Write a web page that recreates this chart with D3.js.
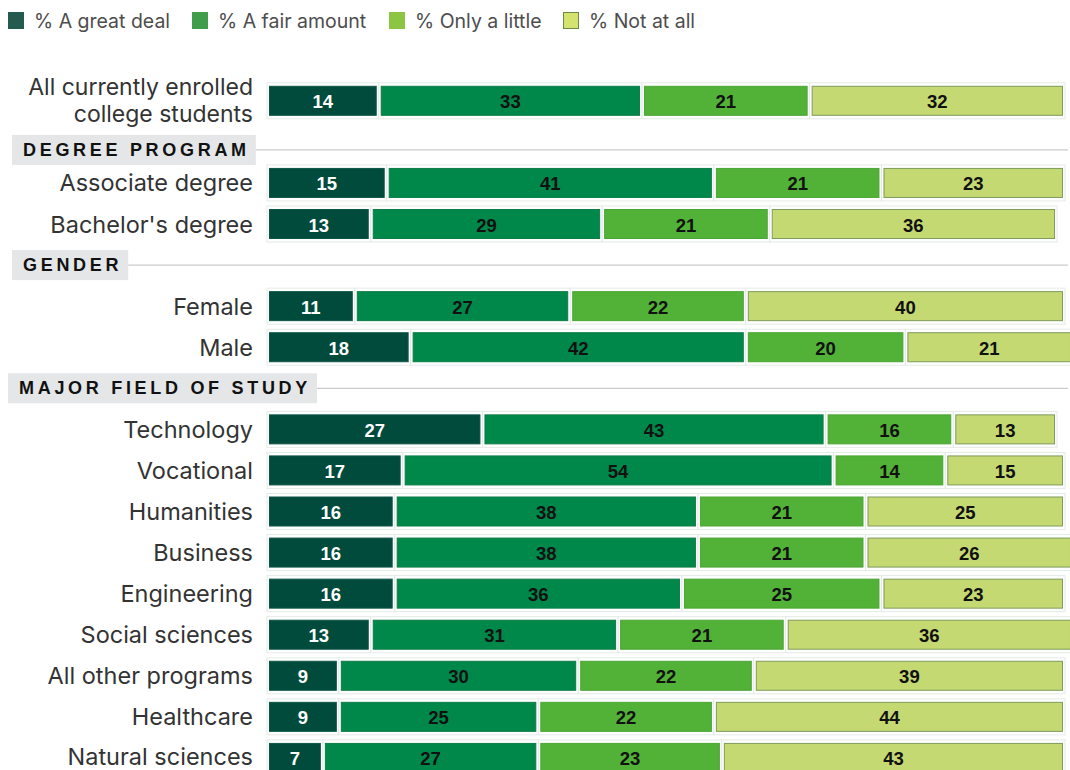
<!DOCTYPE html>
<html>
<head>
<meta charset="utf-8">
<script src="https://cdn.jsdelivr.net/npm/d3@7"></script>
<style>
  html, body { margin: 0; padding: 0; background: #fff; }
  svg { display: block; }
</style>
</head>
<body>
<svg id="chart" width="1070" height="770"></svg>
<script>
// Row labels (a "\n" splits a label over two lines)
const categories = [
  "All currently enrolled\ncollege students",
  "Associate degree",
  "Bachelor's degree",
  "Female",
  "Male",
  "Technology",
  "Vocational",
  "Humanities",
  "Business",
  "Engineering",
  "Social sciences",
  "All other programs",
  "Healthcare",
  "Natural sciences"
];

// Percentages for each response
const greatDeal  = [14, 15, 13, 11, 18, 27, 17, 16, 16, 16, 13,  9,  9,  7];
const fairAmount = [33, 41, 29, 27, 42, 43, 54, 38, 38, 36, 31, 30, 25, 27];
const onlyLittle = [21, 21, 21, 22, 20, 16, 14, 21, 21, 25, 21, 22, 22, 23];
const notAtAll   = [32, 23, 36, 40, 21, 13, 15, 25, 26, 23, 36, 39, 44, 43];

// Series names shown in the legend
const seriesNames = ["% A great deal", "% A fair amount", "% Only a little", "% Not at all"];

// Section headings and the row index each one precedes
const sectionTitles = ["DEGREE PROGRAM", "GENDER", "MAJOR FIELD OF STUDY"];
const sectionStarts = [1, 3, 5];

// Styling
const barFill    = ["#004b3c", "#00884b", "#52b137", "#c5d973"];
const barStroke  = ["#0d5646", "#0b7d46", "#4aa633", "#7d9c5a"];
const legendFill = ["#255a4e", "#3f9d4b", "#8bc541", "#d4e26e"];
const legendLine = ["#255a4e", "#3f9d4b", "#8bc541", "#6a8a45"];
const valueColor = ["#ffffff", "#111111", "#111111", "#111111"];

const svg = d3.select("#chart");

// Build table rows
const series = [greatDeal, fairAmount, onlyLittle, notAtAll];
const rows = categories.map((c, i) => {
  const r = { category: c };
  seriesNames.forEach((s, k) => r[s] = series[k][i]);
  return r;
});
const stacked = d3.stack().keys(seriesNames)(rows);

// Vertical slots: rows and section headings share the same rhythm
const slots = [];
categories.forEach((c, i) => {
  const si = sectionStarts.indexOf(i);
  if (si >= 0) slots.push({ type: "section", title: sectionTitles[si], first: si === 0 });
  slots.push({ type: "row", index: i });
});
const y = d3.scaleLinear().domain([0, slots.length - 1]).range([100.8, 100.8 + 41.07 * (slots.length - 1)]);
const rowY = new Map();
slots.forEach((s, j) => { s.y = y(j); if (s.type === "row") rowY.set(s.index, s.y); });

const x = d3.scaleLinear().domain([0, 100]).range([267, 1065]);

const barH = 29;
const gap = 2.5;

// Legend
const legend = svg.append("g").attr("class", "legend");
const legendX = [8, 192, 389, 563];
seriesNames.forEach((name, k) => {
  const g = legend.append("g").attr("transform", `translate(${legendX[k]},12)`);
  g.append("rect")
    .attr("x", 0.5).attr("y", 0.5).attr("width", 15).attr("height", 16)
    .attr("fill", legendFill[k]).attr("stroke", legendLine[k]).attr("stroke-width", 1);
  g.append("text")
    .attr("x", 26).attr("y", 9)
    .attr("dominant-baseline", "central")
    .attr("font-family", "Inter, 'Noto Sans', sans-serif")
    .attr("font-size", 19.5)
    .attr("fill", "#4d4d4d")
    .text(name);
});

// Section headings
slots.filter(s => s.type === "section").forEach(s => {
  const g = svg.append("g");
  const cy = s.first ? s.y + 8 : s.y;
  const tx = s.title.length > 16 ? 19 : 23;
  const t = g.append("text")
    .attr("x", tx).attr("y", cy)
    .attr("dominant-baseline", "central")
    .attr("font-family", "'Liberation Sans', Arial, sans-serif")
    .attr("font-weight", "bold")
    .attr("font-size", 18)
    .attr("letter-spacing", "3.7px")
    .attr("fill", "#111")
    .text(s.title);
  const bb = t.node().getBBox();
  const bx0 = tx - 11;
  const bx1 = bb.x + bb.width + 6;
  g.insert("rect", "text")
    .attr("x", bx0).attr("y", cy - 15)
    .attr("width", bx1 - bx0).attr("height", 30)
    .attr("fill", "#e4e6e7");
  g.append("line")
    .attr("x1", bx1).attr("x2", 1068)
    .attr("y1", cy).attr("y2", cy)
    .attr("stroke", "#cccccc").attr("stroke-width", 1.2);
});

// Row labels
const labels = svg.append("g").attr("class", "labels");
categories.forEach((c, i) => {
  const lines = c.split("\n");
  const cy = rowY.get(i);
  const lh = 27;
  lines.forEach((ln, li) => {
    labels.append("text")
      .attr("x", 253)
      .attr("y", cy + (li - (lines.length - 1) / 2) * lh - (i === categories.length - 1 ? 1 : 0))
      .attr("text-anchor", "end")
      .attr("dominant-baseline", "central")
      .attr("font-family", "Inter, 'Noto Sans', sans-serif")
      .attr("font-size", lines.length > 1 ? 23 : 23.5)
      .attr("fill", "#333333")
      .text(ln);
  });
});

// Bars
const bars = svg.append("g").attr("class", "bars");
stacked.forEach((layer, k) => {
  const g = bars.append("g");
  layer.forEach((d, i) => {
    const cy = rowY.get(i);
    const x0 = x(d[0]), x1 = x(d[1]);
    // halo around each segment
    g.append("rect")
      .attr("x", x0).attr("y", cy - barH / 2 - gap - 1)
      .attr("width", x1 - x0).attr("height", barH + 2 * gap + 2)
      .attr("fill", "#ffffff").attr("stroke", "#e3ebe5").attr("stroke-width", 1);
    g.append("rect")
      .attr("x", x0 + gap).attr("y", cy - barH / 2)
      .attr("width", Math.max(0, x1 - x0 - 2 * gap)).attr("height", barH)
      .attr("fill", barFill[k])
      .attr("stroke", barStroke[k]).attr("stroke-width", 1);
    g.append("text")
      .attr("x", (x0 + x1) / 2).attr("y", cy + 1)
      .attr("text-anchor", "middle")
      .attr("dominant-baseline", "central")
      .attr("font-family", "'Liberation Sans', Arial, sans-serif")
      .attr("font-weight", "bold")
      .attr("font-size", 18.5)
      .attr("fill", valueColor[k])
      .text(d.data[seriesNames[k]]);
  });
});
</script>
</body>
</html>
